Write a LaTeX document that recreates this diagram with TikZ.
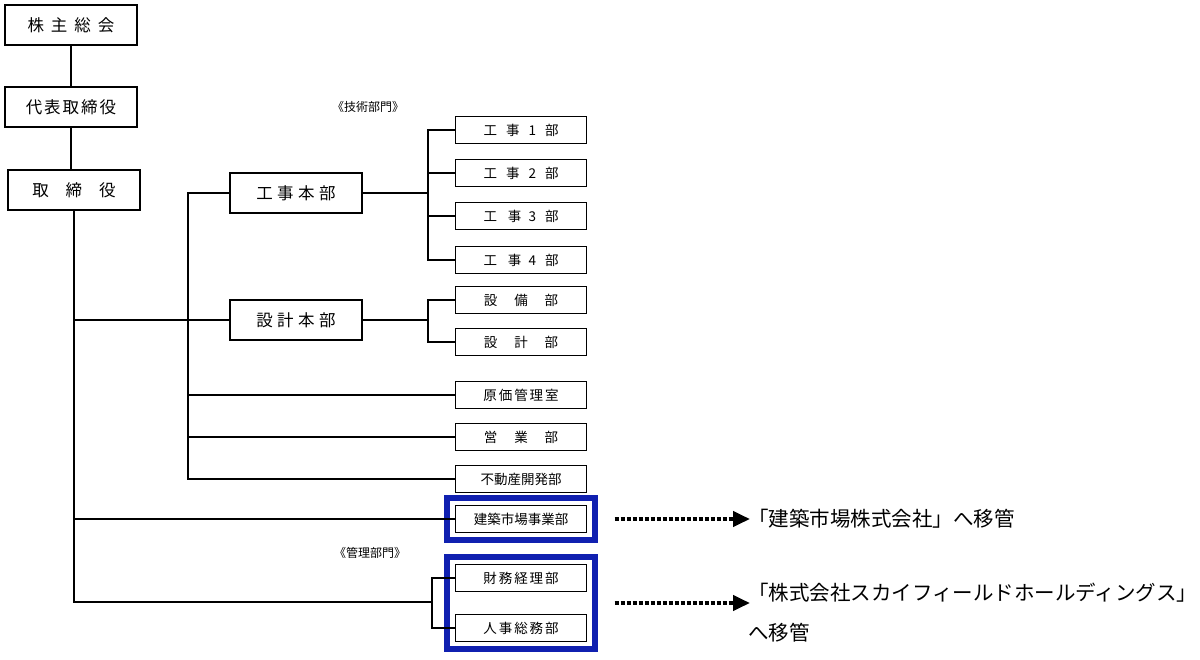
\documentclass[tikz,border=0pt]{standalone}
\usepackage{fontspec}
\setmainfont{Noto Sans CJK JP}
\usetikzlibrary{arrows.meta,fit}

\definecolor{frameblue}{RGB}{16,32,176}

\tikzset{
  bigbox/.style={draw, line width=1.2pt, minimum width=132pt, minimum height=40pt,
    inner sep=0pt, font=\fontsize{16.5}{19}\selectfont},
  smallbox/.style={draw, line width=1.2pt, minimum width=131pt, minimum height=27pt,
    inner sep=0pt, font=\fontsize{13.5}{16}\selectfont},
  grouplabel/.style={font=\fontsize{12}{14}\selectfont},
  blueframe/.style={draw=frameblue, line width=6pt, inner xsep=7.5pt, inner ysep=6.5pt},
  movearrow/.style={line width=4pt, dash pattern=on 4pt off 2pt,
    -{Triangle[length=17pt,width=15pt]}},
  transfer/.style={font=\fontsize{20.5}{40}\selectfont, align=left, anchor=west, inner sep=0pt}
}

\begin{document}
\begin{tikzpicture}[x=1pt, y=-1pt]
    \useasboundingbox (0,0) rectangle (1200,659);
    %% Draw the top nodes
    \node[bigbox] (kabunushi) at (71,25) {株\hspace{7pt}主\hspace{7pt}総\hspace{7pt}会};
    \node[bigbox] (daihyo) at (71,107) {代\hspace{2pt}表\hspace{2pt}取\hspace{2pt}締\hspace{2pt}役};
    \node[bigbox] (torishimari) at (74,190) {取\hspace{17pt}締\hspace{17pt}役};
    %% Draw the technical division
    \node[grouplabel] (gijutsu) at (368,107) {《技術部門》};
    \node[bigbox] (kojihonbu) at (296,193) {工\hspace{4.5pt}事\hspace{4.5pt}本\hspace{4.5pt}部};
    \node[bigbox] (sekkeihonbu) at (296,320) {設\hspace{4.5pt}計\hspace{4.5pt}本\hspace{4.5pt}部};
    \node[smallbox] (koji1) at (521,130) {工\hspace{9pt}事\hspace{9pt}1\hspace{9pt}部};
    \node[smallbox] (koji2) at (521,173) {工\hspace{9pt}事\hspace{9pt}2\hspace{9pt}部};
    \node[smallbox] (koji3) at (521,216) {工\hspace{11pt}事\hspace{7pt}3\hspace{9pt}部};
    \node[smallbox] (koji4) at (521,260) {工\hspace{11pt}事\hspace{7pt}4\hspace{9pt}部};
    \node[smallbox] (setsubi) at (521,300) {設\hspace{17pt}備\hspace{17pt}部};
    \node[smallbox] (sekkei) at (521,342) {設\hspace{17pt}計\hspace{17pt}部};
    \node[smallbox] (genka) at (521,395) {原\hspace{2pt}価\hspace{2pt}管\hspace{2pt}理\hspace{2pt}室};
    \node[smallbox] (eigyo) at (521,437) {営\hspace{17pt}業\hspace{17pt}部};
    \node[smallbox] (fudosan) at (521,479) {不動産開発部};
    %% Draw the moved departments
    \node[smallbox] (kenchiku) at (521,519) {建築市場事業部};
    \node[grouplabel] (kanri) at (370,553) {《管理部門》};
    \node[smallbox] (zaimu) at (521,578) {財\hspace{2pt}務\hspace{2pt}経\hspace{2pt}理\hspace{2pt}部};
    \node[smallbox] (jinji) at (521,628) {人\hspace{2pt}事\hspace{2pt}総\hspace{2pt}務\hspace{2pt}部};
    \node[blueframe, fit=(kenchiku)] (kenchikuframe) {};
    \node[blueframe, fit=(zaimu)(jinji)] (kanriframe) {};
    %% Draw the transfer notes
    \node[transfer] (ikan1) at (748,519) {「建築市場株式会社」へ移管};
    \node[transfer] (ikan2) at (748,613) {「株式会社スカイフィールドホールディングス」\\へ移管};
    %% Draw the bus points
    \coordinate (gijutsubus) at (188,193);
    \coordinate (kojibus) at (428,193);
    \coordinate (sekkeibus) at (428,320);
    \coordinate (kanribus) at (432,602);
    %% Draw the edges
    \begin{scope}[every path/.style={line width=1.3pt}]
      \draw (kabunushi) -- (daihyo);
      \draw (daihyo.south) -- (daihyo.south |- torishimari.north);
      \draw (torishimari.south) |- (kanribus);
      \draw (kanribus) |- (zaimu.west);
      \draw (kanribus) |- (jinji.west);
      \draw (torishimari.south |- sekkeihonbu) -- (sekkeihonbu.west);
      \draw (torishimari.south |- kenchiku) -- (kenchiku.west);
      \draw (kojihonbu.west) -- (gijutsubus) |- (fudosan.west);
      \draw[line width=2pt] (gijutsubus |- genka) -- (genka.west);
      \draw (gijutsubus |- eigyo) -- (eigyo.west);
      \draw[line width=2pt] (kojihonbu.east) -- (kojibus);
      \draw[line width=2pt] (kojibus) |- (koji1.west);
      \draw[line width=2pt] (kojibus) |- (koji4.west);
      \draw[line width=2pt] (kojibus |- koji2) -- (koji2.west);
      \draw[line width=2pt] (kojibus |- koji3) -- (koji3.west);
      \draw (sekkeihonbu.east) -- (sekkeibus);
      \draw (sekkeibus) |- (setsubi.west);
      \draw (sekkeibus) |- (sekkei.west);
    \end{scope}
    \draw[movearrow] ([xshift=17pt]kenchikuframe.east) -- ([xshift=2pt]ikan1.west |- kenchikuframe.east);
    \draw[movearrow] ([xshift=17pt]kanriframe.east) -- ([xshift=2pt]ikan2.west |- kanriframe.east);
  \end{tikzpicture}
\end{document}
